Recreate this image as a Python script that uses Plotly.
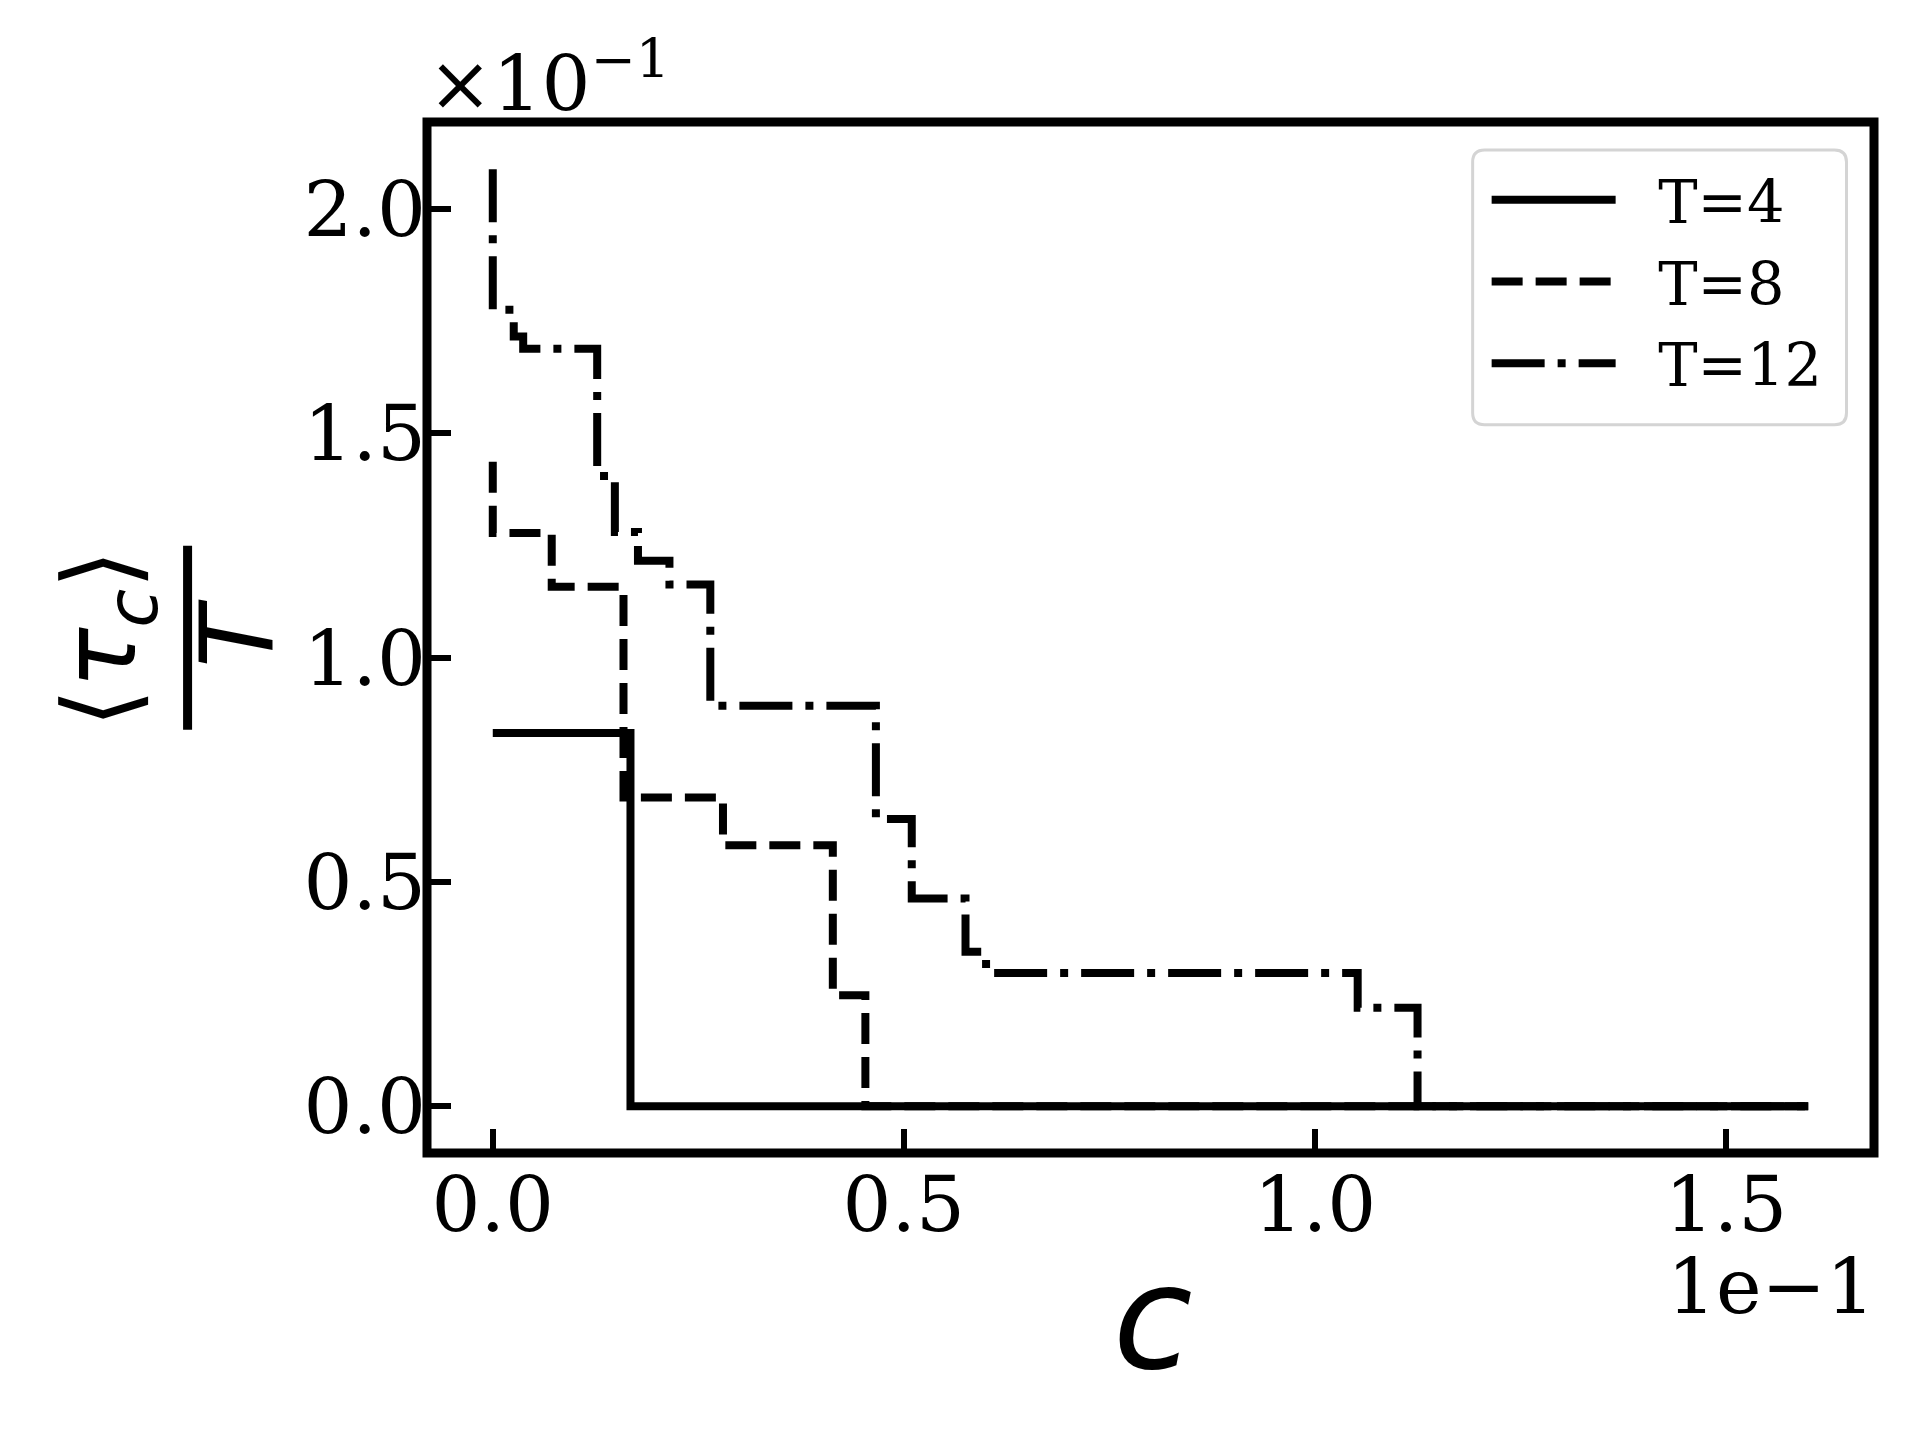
import plotly.graph_objects as go

# step data (x in units of 1e-1, y in units of 1e-1)
c_t4 = [0.0, 0.1675, 1.6]
tau_t4 = [0.832, 0.0, 0.0]

c_t8 = [0.0, 0.0, 0.0717, 0.159, 0.280, 0.4136, 0.4532, 1.6]
tau_t8 = [1.437, 1.278, 1.158, 0.688, 0.582, 0.247, 0.0, 0.0]

c_t12 = [0.0, 0.0, 0.0255, 0.037, 0.127, 0.1485, 0.1766, 0.2149, 0.2646,
         0.4660, 0.5096, 0.575, 0.600, 1.052, 1.1248, 1.6]
tau_t12 = [2.089, 1.776, 1.716, 1.689, 1.405, 1.280, 1.216, 1.163, 0.893,
           0.640, 0.463, 0.344, 0.297, 0.2195, 0.0, 0.0]

names = ['T=4', 'T=8', 'T=12']
dashes = ['solid', '31px,13px', '53px,13px,8px,13px']

x_ticks = [0.0, 0.5, 1.0, 1.5]
y_ticks = [0.0, 0.5, 1.0, 1.5, 2.0]

# page geometry (pixels); the html body adds an 8px margin
OFF = 8
W, H = 1920 - 2 * OFF, 1440 - 2 * OFF
L, R, T, B = 427, 1874.5, 122, 1153.5


def px2x(p):
    return (p - L) / (R - L)


def px2y(p):
    return (B - p) / (B - T)


def rounded_box(x0, y0, x1, y1, r):
    # svg path (paper coords) of a box with rounded corners, given in pixels
    X = lambda p: f'{px2x(p):.5f}'
    Y = lambda p: f'{px2y(p):.5f}'
    return (f'M{X(x0 + r)},{Y(y0)} L{X(x1 - r)},{Y(y0)} Q{X(x1)},{Y(y0)} {X(x1)},{Y(y0 + r)} '
            f'L{X(x1)},{Y(y1 - r)} Q{X(x1)},{Y(y1)} {X(x1 - r)},{Y(y1)} '
            f'L{X(x0 + r)},{Y(y1)} Q{X(x0)},{Y(y1)} {X(x0)},{Y(y1 - r)} '
            f'L{X(x0)},{Y(y0 + r)} Q{X(x0)},{Y(y0)} {X(x0 + r)},{Y(y0)} Z')


serif = 'DejaVu Serif'
sans = 'DejaVu Sans'
nb = '\u00a0'

fig = go.Figure()
for cx, ty, name, dash in zip([c_t4, c_t8, c_t12], [tau_t4, tau_t8, tau_t12], names, dashes):
    fig.add_trace(go.Scatter(
        x=cx, y=ty, mode='lines', name=nb * 2 + name, legendgroup=name,
        line=dict(color='black', width=8, dash=dash, shape='hv')
    ))

axis_common = dict(
    showgrid=False, zeroline=False, showline=False,
    ticks='inside', ticklen=24, tickwidth=6, tickcolor='black',
    tickfont=dict(family=serif, size=77, color='black'),
    tickformat='.1f'
)

fig.update_layout(
    width=W, height=H,
    margin=dict(l=L - OFF, r=W + OFF - R, t=T - OFF, b=H + OFF - B, pad=0),
    paper_bgcolor='white', plot_bgcolor='white',
    xaxis=dict(range=[-0.08, 1.68], tickvals=x_ticks, **axis_common),
    yaxis=dict(range=[-0.1045, 2.1945], tickvals=y_ticks, **axis_common),
    showlegend=True,
    legend=dict(
        x=px2x(1487), y=px2y(155), xanchor='left', yanchor='top',
        borderwidth=0, bgcolor='rgba(0,0,0,0)',
        font=dict(family=serif, size=59, color='black'),
        itemwidth=124, indentation=0,
        traceorder='grouped', tracegroupgap=2
    ),
)

# legend frame with rounded corners
fig.add_shape(type='path', xref='paper', yref='paper',
              path=rounded_box(1473, 150, 1847, 425, 12),
              line=dict(color='#d4d4d4', width=3), fillcolor='white', layer='below')

# frame, centred on the plot edges like matplotlib spines
fig.add_shape(type='rect', xref='paper', yref='paper', x0=0, x1=1, y0=0, y1=1,
              line=dict(color='black', width=9), layer='above')

# y label as a fraction: <tau_c> / T
fig.add_annotation(xref='paper', yref='paper', x=px2x(107), y=px2y(639),
                   text='⟨<i>τ</i><sub><i>c</i></sub>⟩', showarrow=False, textangle=-90,
                   font=dict(family=sans, size=101, color='black'),
                   xanchor='center', yanchor='middle')
fig.add_shape(type='line', xref='paper', yref='paper',
              x0=px2x(187.5), x1=px2x(187.5), y0=px2y(546), y1=px2y(730),
              line=dict(color='black', width=9))
fig.add_annotation(xref='paper', yref='paper', x=px2x(238), y=px2y(634),
                   text='<i>T</i>', showarrow=False, textangle=-90,
                   font=dict(family=sans, size=101, color='black'),
                   xanchor='center', yanchor='middle')

# x label
fig.add_annotation(xref='paper', yref='paper', x=px2x(1153), y=px2y(1318),
                   text='<i>c</i>', showarrow=False,
                   font=dict(family=sans, size=145, color='black'),
                   xanchor='center', yanchor='middle')

# offset texts
fig.add_annotation(xref='paper', yref='paper', x=px2x(426), y=px2y(78),
                   text='×10<sup>−1</sup>', showarrow=False,
                   font=dict(family=serif, size=77, color='black'),
                   xanchor='left', yanchor='middle')
fig.add_annotation(xref='paper', yref='paper', x=px2x(1878), y=px2y(1287),
                   text='1e−1', showarrow=False,
                   font=dict(family=serif, size=77, color='black'),
                   xanchor='right', yanchor='middle')

fig.write_html("out.html")
